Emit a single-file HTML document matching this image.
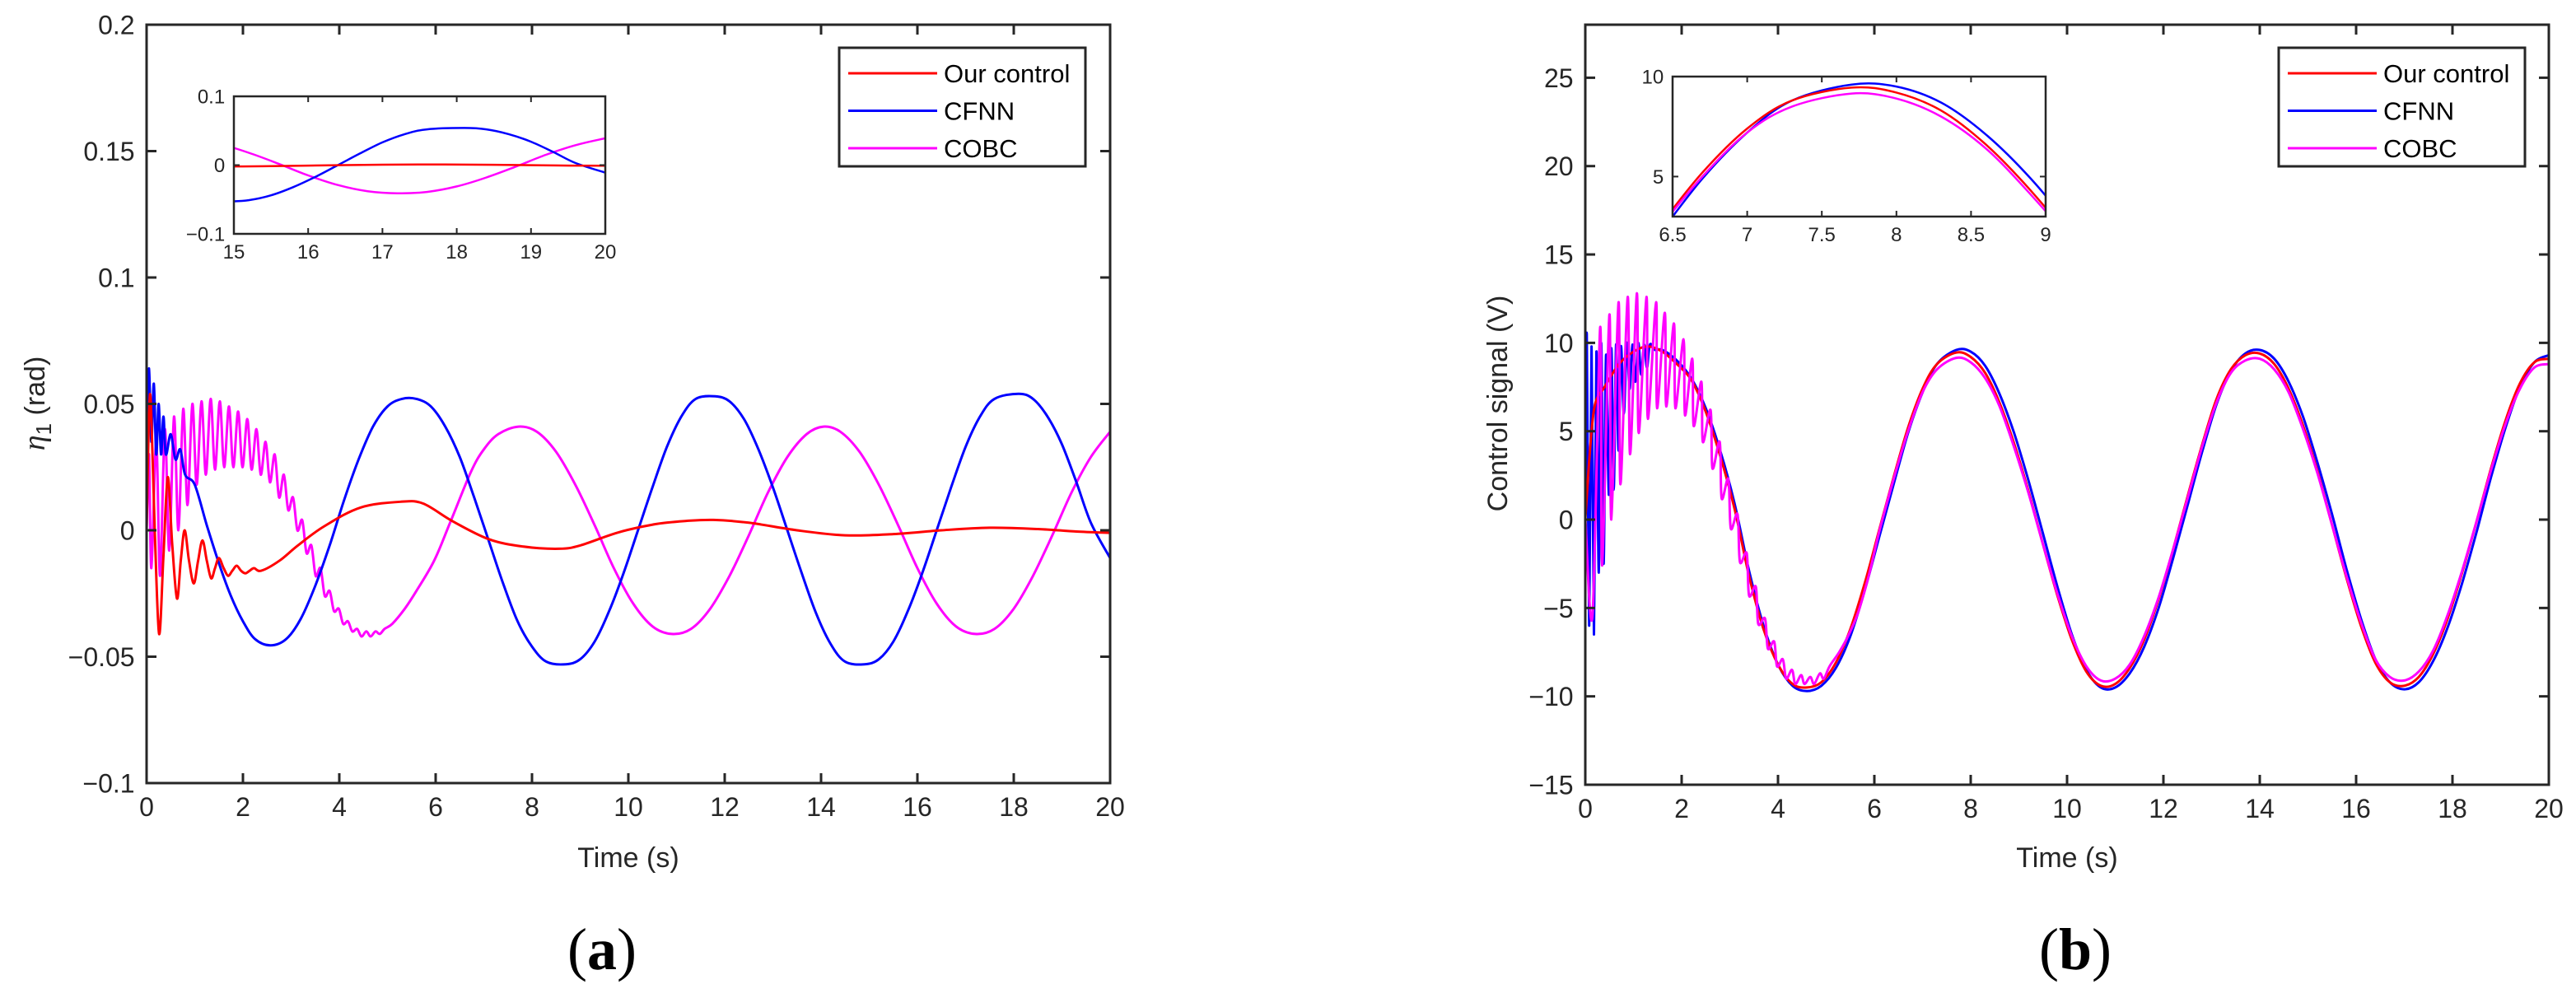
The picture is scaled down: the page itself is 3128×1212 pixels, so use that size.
<!DOCTYPE html>
<html><head><meta charset="utf-8"><style>
body{margin:0;background:#fff;}
svg{display:block;font-family:"Liberation Sans",sans-serif;}
</style></head><body>
<svg id="fig" width="3128" height="1212" viewBox="0 0 3128 1212" xmlns="http://www.w3.org/2000/svg">
<rect width="3128" height="1212" fill="#fff"/>
</svg>
<script>
// ---------- Panel (a) data ----------
const aRedT=[0,0.05,0.09,0.17,0.26,0.35,0.44,0.53,0.63,0.71,0.79,0.88,0.98,1.07,1.16,1.25,1.34,1.42,1.5,1.6,1.69,1.78,1.87,1.96,2.05,2.14,2.23,2.38,2.76,3.14,3.68,4.44,5.28,5.74,6.35,7.1,7.8,8.56,9.0,9.78,10.55,11.2,11.77,12.5,13.5,14.5,15.5,16.5,17.5,18.5,19.3,20];
const aRedV=[0,0.045,0.05,0.0,-0.041,-0.01,0.021,-0.005,-0.027,-0.012,0.0,-0.012,-0.021,-0.012,-0.004,-0.012,-0.019,-0.015,-0.011,-0.015,-0.018,-0.016,-0.014,-0.016,-0.017,-0.016,-0.015,-0.016,-0.012,-0.006,0.0015,0.009,0.0113,0.0106,0.0036,-0.0035,-0.0064,-0.0073,-0.006,-0.0009,0.0024,0.0037,0.0041,0.003,0.0,-0.002,-0.0015,0.0,0.001,0.0005,-0.0005,-0.001];
const aBlueT=[0,0.05,0.1,0.15,0.2,0.25,0.3,0.35,0.4,0.5,0.6,0.7,0.8,1.0,1.25,1.5,1.75,2.0,2.25,2.57,2.9,3.2,3.5,3.8,4.1,4.4,4.7,5.0,5.3,5.6,5.9,6.2,6.5,6.8,7.1,7.4,7.7,8.0,8.3,8.7,9.0,9.3,9.6,9.9,10.2,10.5,10.8,11.1,11.4,11.8,12.1,12.4,12.7,13.0,13.3,13.6,13.9,14.2,14.5,14.9,15.2,15.5,15.8,16.1,16.4,16.7,17.0,17.3,17.6,18.1,18.4,18.7,19.0,19.3,19.6,20];
const aBlueV=[0.04,0.064,0.035,0.058,0.03,0.05,0.03,0.045,0.03,0.038,0.028,0.032,0.022,0.018,0.002,-0.013,-0.026,-0.036,-0.043,-0.0455,-0.043,-0.035,-0.022,-0.006,0.012,0.028,0.041,0.049,0.052,0.052,0.049,0.041,0.029,0.013,-0.004,-0.021,-0.036,-0.046,-0.052,-0.053,-0.051,-0.044,-0.032,-0.017,0.0,0.017,0.033,0.045,0.052,0.053,0.051,0.044,0.032,0.017,0.0,-0.017,-0.033,-0.045,-0.052,-0.053,-0.051,-0.044,-0.032,-0.017,0.0,0.017,0.033,0.045,0.052,0.054,0.052,0.045,0.034,0.019,0.003,-0.011];
const aMagT=[0,0.05,0.1,0.2,0.28,0.38,0.47,0.57,0.66,0.76,0.85,0.95,1.04,1.14,1.23,1.33,1.42,1.52,1.61,1.71,1.8,1.9,1.99,2.09,2.18,2.28,2.37,2.47,2.56,2.66,2.75,2.85,2.94,3.04,3.13,3.23,3.32,3.42,3.51,3.61,3.7,3.8,3.89,3.99,4.08,4.18,4.27,4.37,4.46,4.56,4.65,4.75,4.84,4.94,5.1,5.36,5.6,5.97,6.3,6.73,7.0,7.3,7.72,8.1,8.5,8.9,9.3,9.7,10.1,10.5,10.9,11.3,11.7,12.1,12.5,12.9,13.3,13.7,14.05,14.4,14.8,15.2,15.6,16.0,16.4,16.8,17.2,17.6,18.0,18.4,18.8,19.2,19.6,20];
const aMagV=[0.0,0.03,-0.015,0.035,-0.018,0.04,-0.008,0.045,0.0,0.048,0.01,0.05,0.018,0.051,0.022,0.052,0.024,0.051,0.025,0.049,0.025,0.047,0.025,0.044,0.024,0.04,0.022,0.035,0.019,0.03,0.013,0.022,0.008,0.013,0.0,0.004,-0.009,-0.006,-0.018,-0.015,-0.026,-0.024,-0.032,-0.031,-0.037,-0.036,-0.04,-0.039,-0.042,-0.04,-0.042,-0.04,-0.041,-0.039,-0.037,-0.031,-0.024,-0.012,0.003,0.023,0.032,0.038,0.041,0.039,0.031,0.018,0.002,-0.015,-0.029,-0.038,-0.041,-0.039,-0.031,-0.018,-0.002,0.015,0.029,0.038,0.041,0.039,0.031,0.018,0.002,-0.015,-0.029,-0.038,-0.041,-0.039,-0.031,-0.018,-0.002,0.015,0.029,0.039];
const aXTicks=[0,2,4,6,8,10,12,14,16,18,20];
const aYTicks=[-0.1,-0.05,0,0.05,0.1,0.15,0.2];
const aYTickLabels=["\u22120.1","\u22120.05","0","0.05","0.1","0.15","0.2"];
const aInXTicks=[15,16,17,18,19,20];
const aInYTicks=[-0.1,0,0.1];
const aInYTickLabels=["\u22120.1","0","0.1"];

// ---------- Panel (b) data ----------
const bRedT=[0,0.1,0.2,0.4,0.7,1.0,1.3,1.6,1.9,2.2,2.5,2.8,3.1,3.4,3.7,4.0,4.3,4.6,4.9,5.2,5.5,5.8,6.1,6.4,6.7,7.0,7.3,7.7,8.0,8.3,8.6,8.9,9.2,9.5,9.8,10.1,10.4,10.7,11.0,11.3,11.6,11.9,12.2,12.5,12.8,13.1,13.4,13.7,14.0,14.3,14.6,14.9,15.2,15.5,15.8,16.1,16.4,16.7,17.0,17.3,17.6,17.9,18.2,18.5,18.8,19.1,19.4,19.7,20];
const bRedV=[0,4,6.5,7.5,8.8,9.5,9.8,9.5,8.8,7.9,6.1,3.6,0.6,-3.2,-6.2,-8.2,-9.3,-9.5,-9.2,-8.1,-6.2,-3.6,-0.6,2.4,5.2,7.4,8.8,9.45,9.2,8.3,6.6,4.3,1.6,-1.4,-4.3,-6.8,-8.6,-9.4,-9.3,-8.4,-6.8,-4.5,-1.7,1.3,4.2,6.8,8.5,9.3,9.4,8.8,7.4,5.3,2.7,-0.3,-3.3,-6.0,-8.1,-9.2,-9.4,-8.9,-7.6,-5.6,-3.0,-0.1,2.9,5.6,7.7,8.9,9.1];
const bBlueT=[0,0.03,0.08,0.13,0.18,0.23,0.28,0.33,0.38,0.43,0.49,0.54,0.59,0.64,0.69,0.74,0.8,0.86,0.92,0.98,1.04,1.1,1.16,1.22,1.28,1.34,1.45,1.6,1.9,2.2,2.5,2.8,3.1,3.4,3.7,4.0,4.3,4.6,4.9,5.2,5.5,5.8,6.1,6.4,6.7,7.0,7.3,7.7,8.0,8.3,8.6,8.9,9.2,9.5,9.8,10.1,10.4,10.7,11.0,11.3,11.6,11.9,12.2,12.5,12.8,13.1,13.4,13.7,14.0,14.3,14.6,14.9,15.2,15.5,15.8,16.1,16.4,16.7,17.0,17.3,17.6,17.9,18.2,18.5,18.8,19.1,19.4,19.7,20];
const bBlueV=[0,10.5,-6,9.8,-6.5,9.5,-3,10,-2.5,9.3,1.4,9.7,1.7,9.9,3.9,9.8,6,10,7.4,9.9,7.8,10,8.2,9.9,8.6,9.9,9.6,9.6,9.0,8.0,6.3,3.9,0.9,-2.9,-6.0,-8.2,-9.4,-9.7,-9.4,-8.4,-6.6,-4.0,-1.0,2.0,4.9,7.2,8.8,9.6,9.5,8.7,7.1,4.9,2.2,-0.8,-3.8,-6.5,-8.5,-9.5,-9.5,-8.7,-7.2,-5.0,-2.2,0.8,3.8,6.5,8.4,9.4,9.6,9.1,7.8,5.8,3.2,0.3,-2.8,-5.6,-7.9,-9.2,-9.6,-9.2,-8.0,-6.1,-3.6,-0.7,2.4,5.2,7.5,8.9,9.3];
const bMagT=[0,0.15,0.31,0.35,0.5,0.54,0.69,0.73,0.88,0.93,1.07,1.11,1.27,1.3,1.47,1.49,1.65,1.68,1.84,1.87,2.04,2.07,2.22,2.25,2.41,2.44,2.6,2.64,2.79,2.83,2.97,3.02,3.16,3.21,3.35,3.4,3.54,3.59,3.73,3.79,3.92,3.98,4.1,4.17,4.29,4.36,4.48,4.55,4.67,4.75,4.87,4.95,5.07,5.27,5.47,5.67,5.9,6.1,6.4,6.7,7.0,7.3,7.7,8.0,8.3,8.6,8.9,9.2,9.5,9.8,10.1,10.4,10.7,11.0,11.3,11.6,11.9,12.2,12.5,12.8,13.1,13.4,13.7,14.0,14.3,14.6,14.9,15.2,15.5,15.8,16.1,16.4,16.7,17.0,17.3,17.6,17.9,18.2,18.5,18.8,19.1,19.4,19.7,20];
const bMagV=[0.1,-5.4,10.9,-2.6,11.6,0,12.3,2.0,12.6,3.7,12.8,4.9,12.6,5.7,12.3,6.3,11.7,6.4,11.1,6.3,10.2,5.9,9.1,5.3,7.8,4.4,6.2,2.9,4.4,1.2,2.3,-0.5,0.3,-2.4,-1.9,-4.3,-3.8,-5.9,-5.6,-7.3,-6.9,-8.3,-7.9,-9.0,-8.5,-9.3,-8.8,-9.3,-8.9,-9.3,-8.7,-9.0,-8.3,-7.5,-6.5,-5.2,-3.0,-0.7,2.3,5.0,7.2,8.5,9.15,8.9,8.0,6.4,4.1,1.5,-1.4,-4.2,-6.6,-8.3,-9.1,-9.0,-8.2,-6.6,-4.4,-1.7,1.2,4.1,6.6,8.3,9.0,9.1,8.5,7.2,5.1,2.6,-0.3,-3.2,-5.8,-7.9,-8.9,-9.1,-8.6,-7.4,-5.4,-2.9,-0.1,2.8,5.4,7.4,8.6,8.8];
const bXTicks=[0,2,4,6,8,10,12,14,16,18,20];
const bYTicks=[-15,-10,-5,0,5,10,15,20,25];
const bYTickLabels=["\u221215","\u221210","\u22125","0","5","10","15","20","25"];
const bInXTicks=[6.5,7,7.5,8,8.5,9];
const bInXTickLabels=["6.5","7","7.5","8","8.5","9"];
const bInYTicks=[5,10];

const NS="http://www.w3.org/2000/svg";
const svg=document.getElementById('fig');
function mk(tag,attrs,parent){const e=document.createElementNS(NS,tag);for(const k in attrs)e.setAttribute(k,attrs[k]);(parent||svg).appendChild(e);return e;}
const AX="#262626";
const RED="#ff0000",BLUE="#0000ff",MAG="#ff00ff";

function smoothPath(pts){
  let d='M'+pts[0][0].toFixed(1)+' '+pts[0][1].toFixed(1);
  for(let i=0;i<pts.length-1;i++){
    const p0=pts[i>0?i-1:i],p1=pts[i],p2=pts[i+1],p3=pts[i+2<pts.length?i+2:i+1];
    const c1x=p1[0]+(p2[0]-p0[0])/6,c1y=p1[1]+(p2[1]-p0[1])/6;
    const c2x=p2[0]-(p3[0]-p1[0])/6,c2y=p2[1]-(p3[1]-p1[1])/6;
    d+='C'+c1x.toFixed(1)+' '+c1y.toFixed(1)+' '+c2x.toFixed(1)+' '+c2y.toFixed(1)+' '+p2[0].toFixed(1)+' '+p2[1].toFixed(1);
  }
  return d;
}

function axes(o){
  const g=mk('g',{});
  
  
  const sx=v=>o.x0+(v-o.xmin)/(o.xmax-o.xmin)*(o.x1-o.x0);
  const sy=v=>o.y1-(v-o.ymin)/(o.ymax-o.ymin)*(o.y1-o.y0);
  const clipId=o.name+'-clip';
  const cp=mk('clipPath',{id:clipId},g);
  mk('rect',{x:o.x0,y:o.y0,width:o.x1-o.x0,height:o.y1-o.y0},cp);
  mk('rect',{x:o.x0,y:o.y0,width:o.x1-o.x0,height:o.y1-o.y0,fill:'#fff'},g);
  const sg=mk('g',{'clip-path':'url(#'+clipId+')'},g);
  o.series.forEach(s=>{
    const pts=s.t.map((t,i)=>[sx(t),sy(s.v[i])]);
    const p=mk('path',{d:smoothPath(pts),fill:'none',stroke:s.color,'stroke-width':o.lw,'stroke-linejoin':'round'},sg);
    
    
  });
  const tl=o.tickLen;
  o.xt.forEach((v,i)=>{
    const x=sx(v);
    mk('line',{x1:x,y1:o.y1,x2:x,y2:o.y1-tl,stroke:AX,'stroke-width':o.tw},g);
    mk('line',{x1:x,y1:o.y0,x2:x,y2:o.y0+tl,stroke:AX,'stroke-width':o.tw},g);
    const tx=mk('text',{x:x,y:o.y1+o.fs*1.25,'font-size':o.fs,'text-anchor':'middle',fill:AX},g);
    tx.textContent=o.xl?o.xl[i]:String(v);
    
    
  });
  o.yt.forEach((v,i)=>{
    const y=sy(v);
    mk('line',{x1:o.x0,y1:y,x2:o.x0+tl,y2:y,stroke:AX,'stroke-width':o.tw},g);
    mk('line',{x1:o.x1,y1:y,x2:o.x1-tl,y2:y,stroke:AX,'stroke-width':o.tw},g);
    const ty=mk('text',{x:o.x0-o.fs*0.45,y:y+o.fs*0.36,'font-size':o.fs,'text-anchor':'end',fill:AX},g);
    ty.textContent=o.yl?o.yl[i]:String(v);
    
    
  });
  mk('rect',{x:o.x0,y:o.y0,width:o.x1-o.x0,height:o.y1-o.y0,fill:'none',stroke:AX,'stroke-width':o.bw},g);
  return g;
}
function legend(x,y,name){
  const g=mk('g',{});
  
  
  mk('rect',{x:x,y:y,width:299,height:144,fill:'#fff',stroke:AX,'stroke-width':3},g);
  [["Our control",RED],["CFNN",BLUE],["COBC",MAG]].forEach((e,i)=>{
    const cy=y+27+i*45.5;
    const ge=mk('g',{},g);
    
    
    mk('line',{x1:x+11,y1:cy+4,x2:x+119,y2:cy+4,stroke:e[1],'stroke-width':3},ge);
    const t=mk('text',{x:x+127,y:cy+15,'font-size':31,fill:'#000'},ge);
    t.textContent=e[0];
  });
}

// Panel a
axes({name:'eta-main-plot',x0:178,x1:1348,y0:30,y1:951,xmin:0,xmax:20,ymin:-0.1,ymax:0.2,
  xt:aXTicks,yt:aYTicks,yl:aYTickLabels,fs:32,tickLen:12,tw:3,bw:3,lw:3,
  series:[{name:'cobc-line',t:aMagT,v:aMagV,color:MAG},{name:'cfnn-line',t:aBlueT,v:aBlueV,color:BLUE},{name:'our-control-line',t:aRedT,v:aRedV,color:RED}]});
axes({name:'eta-inset-plot',x0:284,x1:735,y0:117,y1:284,xmin:15,xmax:20,ymin:-0.1,ymax:0.1,
  xt:aInXTicks,yt:aInYTicks,yl:aInYTickLabels,fs:24,tickLen:7,tw:2,bw:2.5,lw:2.5,
  series:[{name:'inset-cobc-line',t:aMagT,v:aMagV,color:MAG},{name:'inset-cfnn-line',t:aBlueT,v:aBlueV,color:BLUE},{name:'inset-our-control-line',t:aRedT,v:aRedV,color:RED}]});
legend(1019,58,'legend-a');

// Panel b
axes({name:'control-main-plot',x0:1925,x1:3095,y0:30,y1:953,xmin:0,xmax:20,ymin:-15,ymax:28,
  xt:bXTicks,yt:bYTicks,yl:bYTickLabels,fs:32,tickLen:12,tw:3,bw:3,lw:3,
  series:[{name:'cfnn-line',t:bBlueT,v:bBlueV,color:BLUE},{name:'our-control-line',t:bRedT,v:bRedV,color:RED},{name:'cobc-line',t:bMagT,v:bMagV,color:MAG}]});
axes({name:'control-inset-plot',x0:2031,x1:2484,y0:93,y1:263,xmin:6.5,xmax:9,ymin:3,ymax:10,
  xt:bInXTicks,xl:bInXTickLabels,yt:bInYTicks,fs:24,tickLen:7,tw:2,bw:2.5,lw:2.5,
  series:[{name:'inset-cfnn-line',t:bBlueT,v:bBlueV,color:BLUE},{name:'inset-our-control-line',t:bRedT,v:bRedV,color:RED},{name:'inset-cobc-line',t:bMagT,v:bMagV,color:MAG}]});
legend(2767,58,'legend-b');
</script>
<div style="position:absolute;left:0;top:0;width:3128px;height:1212px;pointer-events:none;">
<svg width="3128" height="1212" style="position:absolute;left:0;top:0" font-family="Liberation Sans, sans-serif">
<text x="763" y="1053" font-size="34" text-anchor="middle" fill="#262626">Time (s)</text>
<text x="2510" y="1053" font-size="34" text-anchor="middle" fill="#262626">Time (s)</text>
<text transform="translate(54,490) rotate(-90)" font-size="34" text-anchor="middle" fill="#262626"><tspan font-style="italic" font-family="Liberation Serif, serif" font-size="38">η</tspan><tspan font-size="26" dy="8">1</tspan><tspan dy="-8"> (rad)</tspan></text>
<text transform="translate(1830,490) rotate(-90)" font-size="34" text-anchor="middle" fill="#262626">Control signal (V)</text>
<text x="731" y="1177" font-size="72" font-family="Liberation Serif, serif" text-anchor="middle" fill="#000">(<tspan font-weight="bold">a</tspan>)</text>
<text x="2520" y="1177" font-size="72" font-family="Liberation Serif, serif" text-anchor="middle" fill="#000">(<tspan font-weight="bold">b</tspan>)</text>
</svg>
</div>
</body></html>
